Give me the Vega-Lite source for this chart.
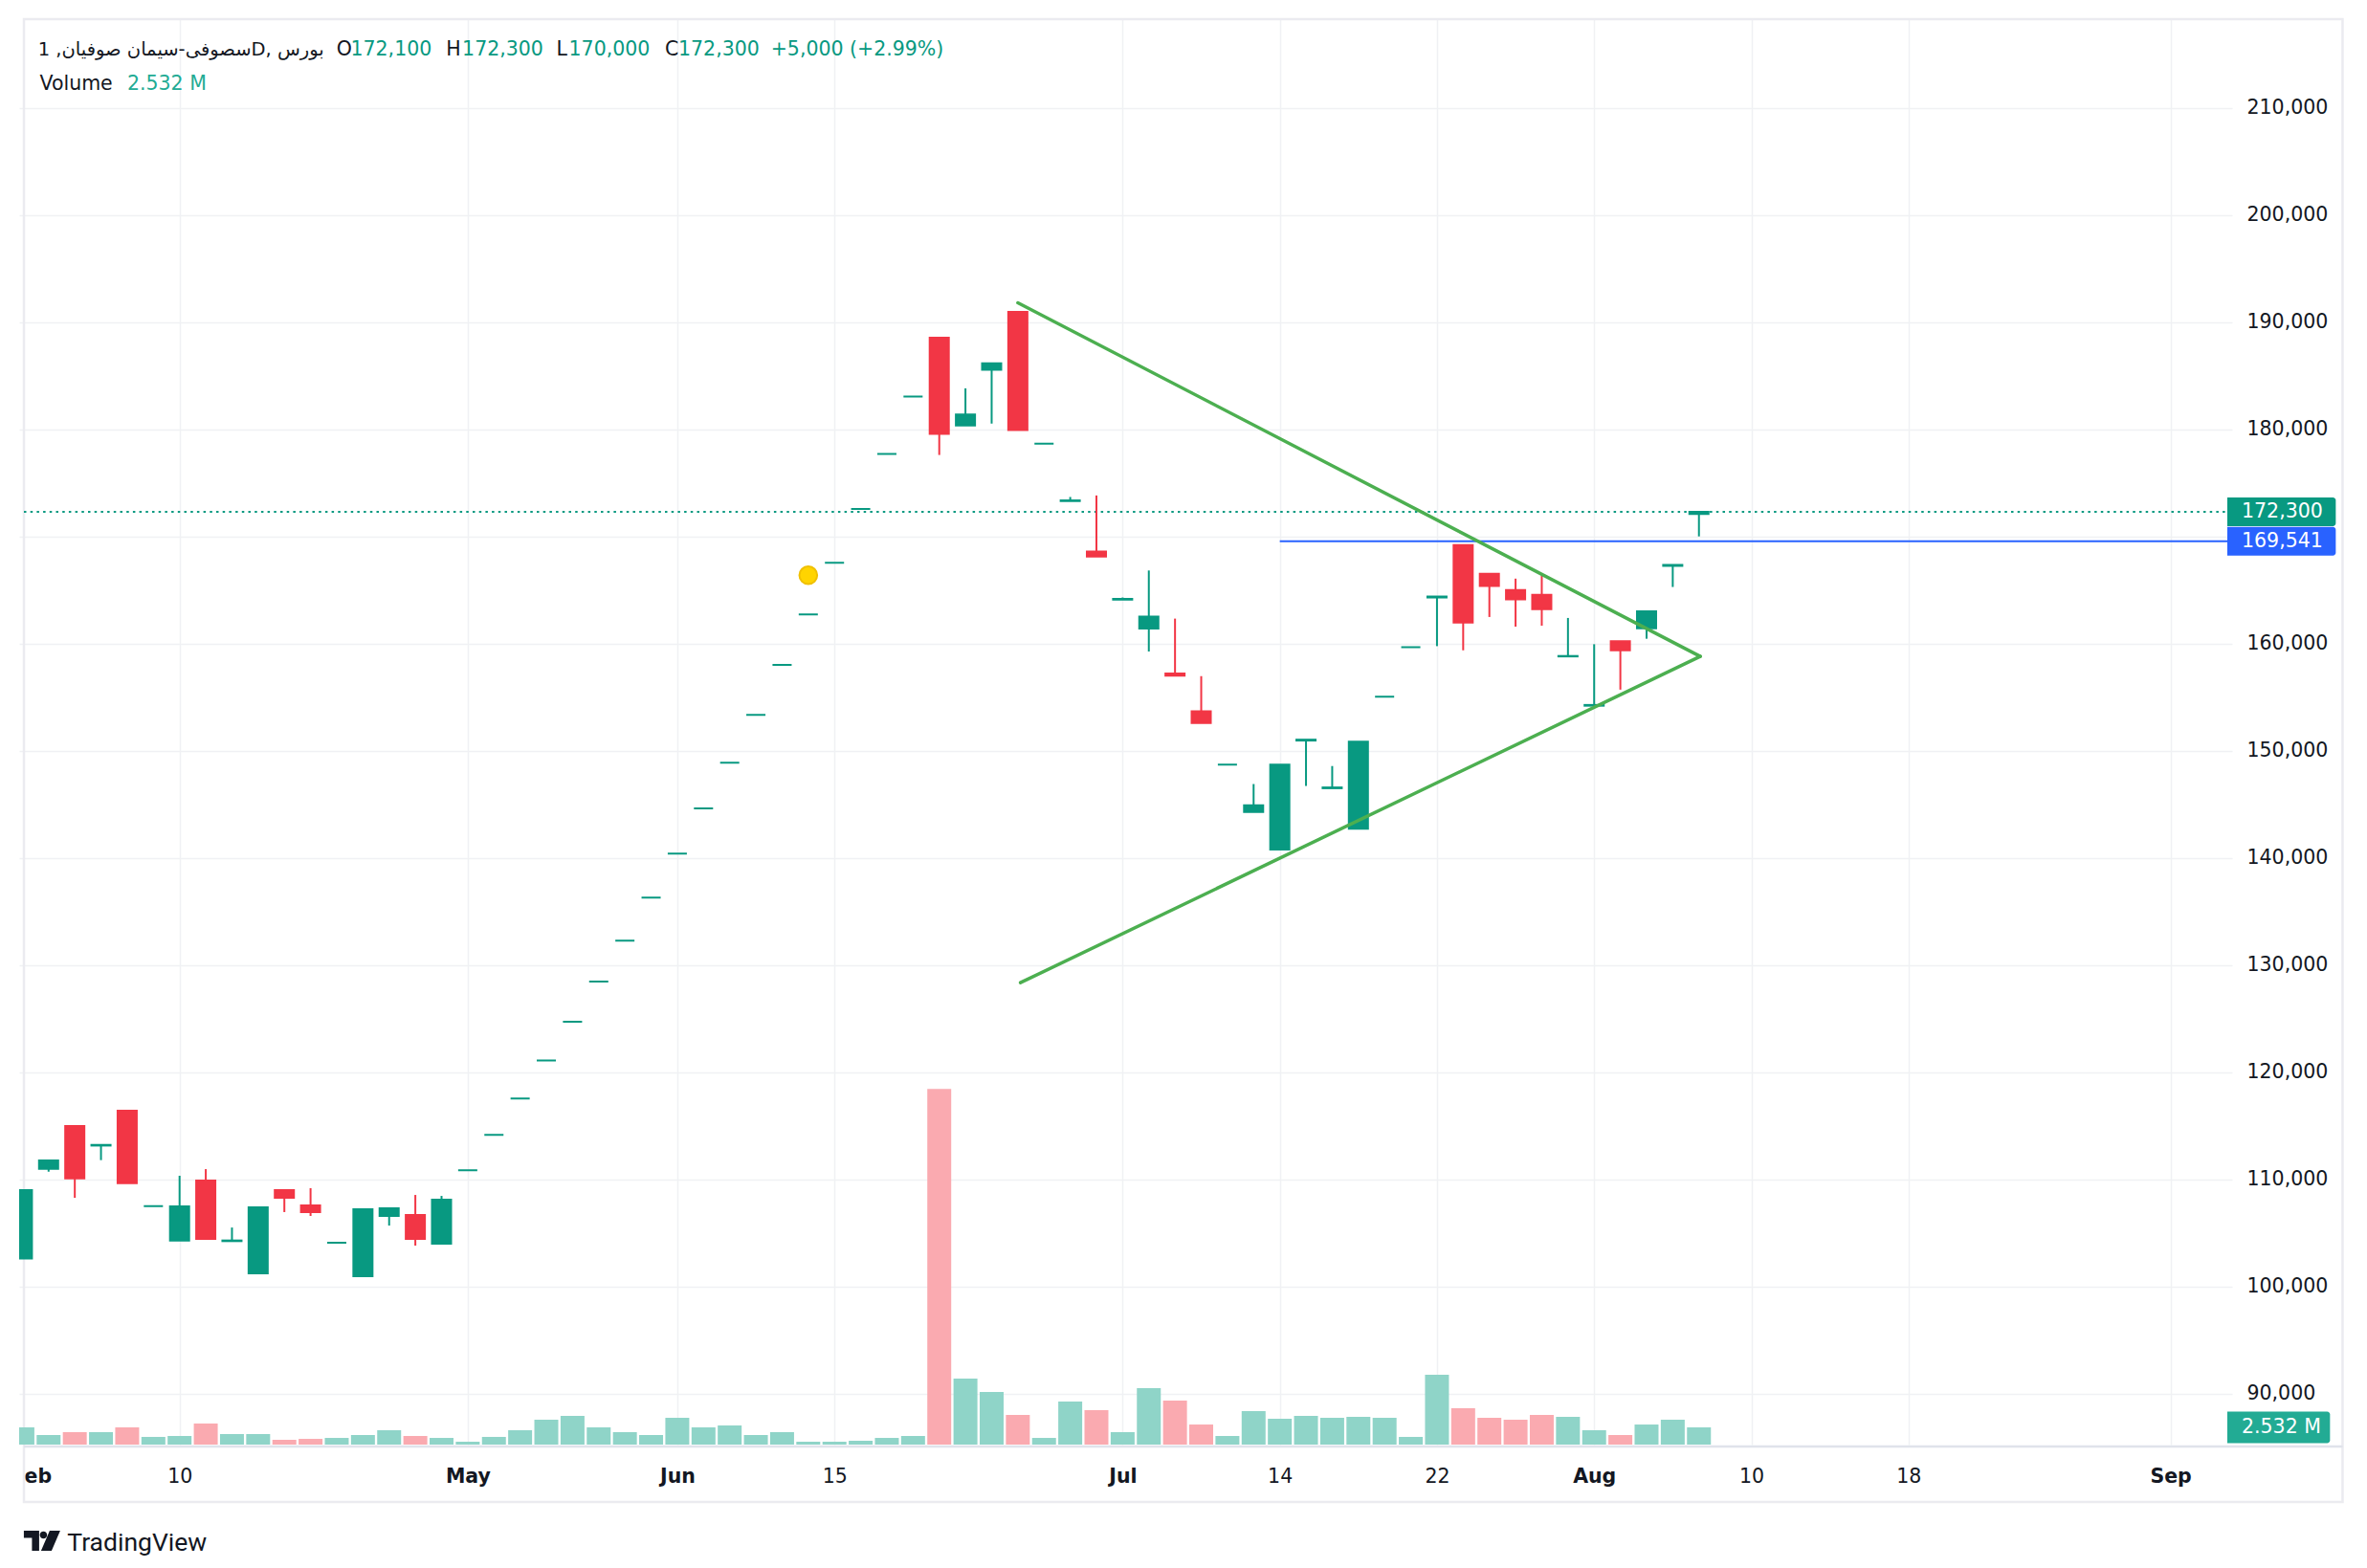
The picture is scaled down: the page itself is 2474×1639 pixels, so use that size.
{
  "$schema": "https://vega.github.io/schema/vega-lite/v6.json",
  "width": 2313,
  "height": 1490,
  "autosize": {"type": "none"},
  "padding": {"left": 20, "top": 20, "right": 141, "bottom": 129},
  "background": "#ffffff",
  "config": {"view": {"stroke": null}, "font": "DejaVu Sans"},
  "datasets": {
    "bars": [
      {"i":0,"o":102600,"h":109000,"l":102600,"c":109000,"v":2.53},
      {"i":1,"o":110980,"h":111760,"l":110710,"c":111760,"v":1.41},
      {"i":2,"o":114970,"h":114970,"l":108270,"c":110090,"v":1.83},
      {"i":3,"o":113150,"h":113210,"l":111790,"c":113210,"v":1.83},
      {"i":4,"o":116400,"h":116400,"l":109640,"c":109640,"v":2.53},
      {"i":5,"o":107500,"h":107500,"l":107500,"c":107500,"v":1.13},
      {"i":6,"o":104290,"h":110330,"l":104290,"c":107470,"v":1.27},
      {"i":7,"o":109880,"h":110950,"l":104440,"c":104440,"v":3.10},
      {"i":8,"o":104230,"h":105500,"l":104230,"c":104290,"v":1.55},
      {"i":9,"o":101220,"h":107470,"l":101220,"c":107380,"v":1.55},
      {"i":10,"o":108990,"h":108990,"l":106940,"c":108270,"v":0.70},
      {"i":11,"o":107560,"h":109170,"l":106580,"c":106940,"v":0.84},
      {"i":12,"o":104080,"h":104080,"l":104080,"c":104080,"v":0.98},
      {"i":13,"o":100950,"h":107200,"l":100950,"c":107200,"v":1.41},
      {"i":14,"o":106580,"h":107290,"l":105680,"c":107290,"v":2.11},
      {"i":15,"o":106670,"h":108540,"l":103810,"c":104440,"v":1.27},
      {"i":16,"o":103990,"h":108450,"l":103990,"c":108100,"v":0.98},
      {"i":17,"o":110840,"h":110840,"l":110840,"c":110840,"v":0.42},
      {"i":18,"o":114140,"h":114140,"l":114140,"c":114140,"v":1.13},
      {"i":19,"o":117530,"h":117530,"l":117530,"c":117530,"v":2.11},
      {"i":20,"o":121100,"h":121100,"l":121100,"c":121100,"v":3.66},
      {"i":21,"o":124700,"h":124700,"l":124700,"c":124700,"v":4.22},
      {"i":22,"o":128450,"h":128450,"l":128450,"c":128450,"v":2.53},
      {"i":23,"o":132270,"h":132270,"l":132270,"c":132270,"v":1.83},
      {"i":24,"o":136300,"h":136300,"l":136300,"c":136300,"v":1.41},
      {"i":25,"o":140400,"h":140400,"l":140400,"c":140400,"v":3.94},
      {"i":26,"o":144620,"h":144620,"l":144620,"c":144620,"v":2.53},
      {"i":27,"o":148880,"h":148880,"l":148880,"c":148880,"v":2.81},
      {"i":28,"o":153350,"h":153350,"l":153350,"c":153350,"v":1.41},
      {"i":29,"o":158010,"h":158010,"l":158010,"c":158010,"v":1.83},
      {"i":30,"o":162710,"h":162710,"l":162710,"c":162710,"v":0.42},
      {"i":31,"o":167530,"h":167530,"l":167530,"c":167530,"v":0.42},
      {"i":32,"o":172560,"h":172560,"l":172560,"c":172560,"v":0.56},
      {"i":33,"o":177700,"h":177700,"l":177700,"c":177700,"v":0.98},
      {"i":34,"o":183050,"h":183050,"l":183050,"c":183050,"v":1.27},
      {"i":35,"o":188550,"h":188550,"l":177600,"c":179580,"v":52.3},
      {"i":36,"o":180350,"h":183820,"l":180350,"c":181380,"v":9.71},
      {"i":37,"o":185550,"h":186150,"l":180530,"c":186150,"v":7.74},
      {"i":38,"o":190950,"h":190950,"l":179930,"c":179930,"v":4.36},
      {"i":39,"o":178660,"h":178660,"l":178660,"c":178660,"v":0.98},
      {"i":40,"o":173300,"h":173680,"l":173300,"c":173360,"v":6.33},
      {"i":41,"o":168590,"h":173820,"l":168130,"c":168130,"v":5.07},
      {"i":42,"o":164100,"h":164300,"l":164100,"c":164170,"v":1.83},
      {"i":43,"o":161410,"h":166820,"l":159260,"c":162510,"v":8.30},
      {"i":44,"o":157200,"h":162330,"l":157000,"c":157000,"v":6.47},
      {"i":45,"o":153680,"h":156960,"l":152580,"c":152580,"v":2.95},
      {"i":46,"o":148690,"h":148690,"l":148690,"c":148690,"v":1.27},
      {"i":47,"o":144280,"h":146890,"l":144280,"c":144910,"v":4.92},
      {"i":48,"o":140780,"h":148690,"l":140780,"c":148690,"v":3.80},
      {"i":49,"o":150950,"h":151030,"l":146710,"c":151030,"v":4.22},
      {"i":50,"o":146500,"h":148570,"l":146500,"c":146570,"v":3.94},
      {"i":51,"o":142720,"h":150840,"l":142720,"c":150840,"v":4.08},
      {"i":52,"o":155050,"h":155050,"l":155050,"c":155050,"v":3.94},
      {"i":53,"o":159670,"h":159670,"l":159670,"c":159670,"v":1.13},
      {"i":54,"o":164300,"h":164390,"l":159760,"c":164390,"v":10.27},
      {"i":55,"o":169190,"h":169190,"l":159370,"c":161970,"v":5.35},
      {"i":56,"o":166510,"h":166510,"l":162480,"c":165370,"v":3.94},
      {"i":57,"o":164990,"h":166060,"l":161580,"c":164120,"v":3.66},
      {"i":58,"o":164540,"h":166360,"l":161670,"c":163220,"v":4.36},
      {"i":59,"o":158800,"h":162390,"l":158800,"c":158840,"v":4.08},
      {"i":60,"o":154200,"h":159940,"l":154200,"c":154270,"v":2.11},
      {"i":61,"o":160210,"h":160210,"l":155700,"c":159370,"v":1.41},
      {"i":62,"o":161430,"h":163010,"l":160450,"c":163010,"v":2.95},
      {"i":63,"o":167250,"h":167340,"l":165280,"c":167340,"v":3.66},
      {"i":64,"o":172100,"h":172300,"l":170000,"c":172300,"v":2.532}
    ],
    "trend": [
      {"i":38.0,"p":191800,"seg":"upper"},
      {"i":64.05,"p":158800,"seg":"upper"},
      {"i":38.1,"p":128350,"seg":"lower"},
      {"i":64.05,"p":158800,"seg":"lower"}
    ],
    "hlines": [
      {"i":0.058,"i2":84.17,"p":172300,"k":"last"},
      {"i":48,"i2":84.17,"p":169541,"k":"level"}
    ],
    "tags": [
      {"i":84.17,"i2":88.31,"p":170961,"p2":173639,"pm":172300,"t":"172,300","k":"last"},
      {"i":84.17,"i2":88.31,"p":168202,"p2":170880,"pm":169541,"t":"169,541","k":"level"}
    ],
    "vtag": [
      {"i":84.17,"i2":88.09,"v":0.21,"v2":4.85,"vm":2.532,"t":"2.532 M"}
    ],
    "marker": [{"i":30,"p":166375}],
    "header": [
      {"i":0.596,"p":214884,"t":"سصوفی-سیمان صوفیان, 1D, بورس","k":"title"},
      {"i":11.99,"p":214884,"t":"O","k":"name"},
      {"i":12.53,"p":214884,"t":"172,100","k":"up"},
      {"i":16.17,"p":214884,"t":"H","k":"name"},
      {"i":16.79,"p":214884,"t":"172,300","k":"up"},
      {"i":20.38,"p":214884,"t":"L","k":"name"},
      {"i":20.86,"p":214884,"t":"170,000","k":"up"},
      {"i":24.53,"p":214884,"t":"C","k":"name"},
      {"i":25.04,"p":214884,"t":"172,300","k":"up"},
      {"i":28.57,"p":214884,"t":"+5,000 (+2.99%)","k":"up"},
      {"i":0.66,"p":211696,"t":"Volume","k":"name"},
      {"i":4.0,"p":211696,"t":"2.532 M","k":"vol"}
    ],
    "frame": [{"i":0.058,"i2":88.57,"p":218277,"p2":79884}],
    "sep": [{"i":0.058,"i2":88.57,"p":85062}],
    "logo": [{"i":1.713,"p":75357,"t":"TradingView"}],
    "logoIcon": [{"i":0.749,"p":76268}]
  },
  "encoding": {
    "x": {
      "field": "i",
      "type": "quantitative",
      "scale": {"domain": [0.058, 84.17], "nice": false, "zero": false},
      "axis": {
        "values": [0.058, 6, 17, 25, 31, 42, 48, 54, 60, 66, 72, 82],
        "labelExpr": "datum.value < 1 ? 'eb' : datum.value == 6 ? '10' : datum.value == 17 ? 'May' : datum.value == 25 ? 'Jun' : datum.value == 31 ? '15' : datum.value == 42 ? 'Jul' : datum.value == 48 ? '14' : datum.value == 54 ? '22' : datum.value == 60 ? 'Aug' : datum.value == 66 ? '10' : datum.value == 72 ? '18' : 'Sep'",
        "grid": true,
        "gridColor": {"condition": {"test": "datum.value < 1", "value": "transparent"}, "value": "#f0f1f4"},
        "gridWidth": 1.5,
        "ticks": false,
        "tickSize": 0,
        "domain": false,
        "labelPadding": 33,
        "labelBaseline": "middle",
        "labelAlign": {"condition": {"test": "datum.value < 1", "value": "left"}, "value": "center"},
        "labelFont": "DejaVu Sans",
        "labelFontSize": 20.5,
        "labelColor": "#131722",
        "labelFontWeight": {"condition": {"test": "datum.value < 1 || datum.value == 17 || datum.value == 25 || datum.value == 42 || datum.value == 60 || datum.value == 82", "value": "bold"}, "value": "normal"},
        "labelFlush": false,
        "labelOverlap": false,
        "title": null
      }
    }
  },
  "resolve": {"scale": {"y": "independent"}},
  "layer": [
    {
      "data": {"name": "frame"},
      "mark": {"type": "rect", "filled": false, "color": "#ebebf0", "strokeWidth": 2.5},
      "encoding": {
        "x2": {"field": "i2"},
        "y": {
          "field": "p", "type": "quantitative",
          "scale": {"domain": [85241, 218277], "nice": false, "zero": false},
          "axis": {
            "orient": "right",
            "values": [90000, 100000, 110000, 120000, 130000, 140000, 150000, 160000, 170000, 180000, 190000, 200000, 210000],
            "labelExpr": "datum.value == 170000 ? '' : format(datum.value, ',.0f')",
            "grid": true,
            "gridColor": "#f0f1f4",
            "gridWidth": 1.5,
            "ticks": false,
            "tickSize": 0,
            "domain": false,
            "labelAlign": "left",
            "labelBaseline": "middle",
            "labelPadding": 15,
            "labelFont": "DejaVu Sans",
            "labelFontSize": 20.5,
            "labelColor": "#131722",
            "labelFlush": false,
            "labelOverlap": false,
            "title": null
          }
        },
        "y2": {"field": "p2"}
      }
    },
    {
      "data": {"name": "bars"},
      "mark": {"type": "bar", "width": 25, "clip": true},
      "encoding": {
        "y": {"field": "v", "type": "quantitative", "scale": {"domain": [0, 209.6], "nice": false, "zero": true}, "axis": null},
        "color": {"condition": {"test": "datum.c >= datum.o", "value": "#8fd4c8"}, "value": "#faaab0"}
      }
    },
    {
      "data": {"name": "sep"},
      "mark": {"type": "rule", "color": "#e0e3eb", "strokeWidth": 2.5},
      "encoding": {
        "x2": {"field": "i2"},
        "y": {"field": "p", "type": "quantitative", "scale": {"domain": [85241, 218277], "nice": false, "zero": false}, "axis": null}
      }
    },
    {
      "data": {"name": "hlines"},
      "transform": [{"filter": "datum.k == 'last'"}],
      "mark": {"type": "rule", "color": "#089981", "strokeWidth": 2, "strokeDash": [2.5, 4.2]},
      "encoding": {
        "x2": {"field": "i2"},
        "y": {"field": "p", "type": "quantitative", "scale": {"domain": [85241, 218277], "nice": false, "zero": false}, "axis": null}
      }
    },
    {
      "data": {"name": "hlines"},
      "transform": [{"filter": "datum.k == 'level'"}],
      "mark": {"type": "rule", "color": "#2962ff", "strokeWidth": 2},
      "encoding": {
        "x2": {"field": "i2"},
        "y": {"field": "p", "type": "quantitative", "scale": {"domain": [85241, 218277], "nice": false, "zero": false}, "axis": null}
      }
    },
    {
      "data": {"name": "bars"},
      "mark": {"type": "rule", "strokeWidth": 2, "clip": true},
      "encoding": {
        "y": {"field": "l", "type": "quantitative", "scale": {"domain": [85241, 218277], "nice": false, "zero": false}, "axis": null},
        "y2": {"field": "h"},
        "color": {"condition": {"test": "datum.c >= datum.o", "value": "#089981"}, "value": "#f23645"}
      }
    },
    {
      "data": {"name": "bars"},
      "mark": {"type": "bar", "width": 20, "strokeWidth": 2, "clip": true},
      "encoding": {
        "y": {"field": "o", "type": "quantitative", "scale": {"domain": [85241, 218277], "nice": false, "zero": false}, "axis": null},
        "y2": {"field": "c"},
        "color": {"condition": {"test": "datum.c >= datum.o", "value": "#089981"}, "value": "#f23645"},
        "stroke": {"condition": {"test": "datum.c >= datum.o", "value": "#089981"}, "value": "#f23645"}
      }
    },
    {
      "data": {"name": "trend"},
      "mark": {"type": "line", "color": "#4caf50", "strokeWidth": 3.5, "strokeCap": "round"},
      "encoding": {
        "y": {"field": "p", "type": "quantitative", "scale": {"domain": [85241, 218277], "nice": false, "zero": false}, "axis": null},
        "detail": {"field": "seg"}
      }
    },
    {
      "data": {"name": "marker"},
      "mark": {"type": "point", "filled": true, "size": 346, "fill": "#ffd400", "stroke": "#f0c000", "strokeWidth": 2, "opacity": 1},
      "encoding": {
        "y": {"field": "p", "type": "quantitative", "scale": {"domain": [85241, 218277], "nice": false, "zero": false}, "axis": null}
      }
    },
    {
      "data": {"name": "tags"},
      "mark": {"type": "rect", "cornerRadiusTopRight": 3, "cornerRadiusBottomRight": 3},
      "encoding": {
        "x2": {"field": "i2"},
        "y": {"field": "p", "type": "quantitative", "scale": {"domain": [85241, 218277], "nice": false, "zero": false}, "axis": null},
        "y2": {"field": "p2"},
        "color": {"condition": {"test": "datum.k == 'last'", "value": "#089981"}, "value": "#2962ff"}
      }
    },
    {
      "data": {"name": "tags"},
      "mark": {"type": "text", "align": "left", "baseline": "middle", "font": "DejaVu Sans", "fontSize": 20.5, "color": "#ffffff", "dx": 15},
      "encoding": {
        "y": {"field": "pm", "type": "quantitative", "scale": {"domain": [85241, 218277], "nice": false, "zero": false}, "axis": null},
        "text": {"field": "t"}
      }
    },
    {
      "data": {"name": "vtag"},
      "mark": {"type": "rect", "color": "#22ab94", "cornerRadiusTopRight": 3, "cornerRadiusBottomRight": 3},
      "encoding": {
        "x2": {"field": "i2"},
        "y": {"field": "v", "type": "quantitative", "scale": {"domain": [0, 209.6], "nice": false, "zero": true}, "axis": null},
        "y2": {"field": "v2"}
      }
    },
    {
      "data": {"name": "vtag"},
      "mark": {"type": "text", "align": "left", "baseline": "middle", "font": "DejaVu Sans", "fontSize": 20.5, "color": "#ffffff", "dx": 15},
      "encoding": {
        "y": {"field": "vm", "type": "quantitative", "scale": {"domain": [0, 209.6], "nice": false, "zero": true}, "axis": null},
        "text": {"field": "t"}
      }
    },
    {
      "data": {"name": "header"},
      "mark": {"type": "text", "align": "left", "baseline": "alphabetic", "font": "DejaVu Sans"},
      "encoding": {
        "y": {"field": "p", "type": "quantitative", "scale": {"domain": [85241, 218277], "nice": false, "zero": false}, "axis": null},
        "text": {"field": "t"},
        "size": {"condition": {"test": "datum.k == 'title'", "value": 19.5}, "value": 20.5},
        "color": {"condition": [{"test": "datum.k == 'up'", "value": "#089981"}, {"test": "datum.k == 'vol'", "value": "#22ab94"}], "value": "#131722"}
      }
    },
    {
      "data": {"name": "logo"},
      "mark": {"type": "text", "align": "left", "baseline": "alphabetic", "font": "Roboto", "fontSize": 26.5, "color": "#131722"},
      "encoding": {
        "y": {"field": "p", "type": "quantitative", "scale": {"domain": [85241, 218277], "nice": false, "zero": false}, "axis": null},
        "text": {"field": "t"}
      }
    },
    {
      "data": {"name": "logoIcon"},
      "mark": {
        "type": "point", "filled": true, "size": 1444, "color": "#131722", "opacity": 1,
        "shape": "M-1,-0.553 L-0.158,-0.553 L-0.158,0.553 L-0.553,0.553 L-0.553,-0.158 L-1,-0.158 Z M-0.121,-0.316 A0.2,0.2 0 1 0 0.279,-0.316 A0.2,0.2 0 1 0 -0.121,-0.316 Z M0.421,-0.553 L1,-0.553 L0.526,0.553 L-0.053,0.553 Z"
      },
      "encoding": {
        "y": {"field": "p", "type": "quantitative", "scale": {"domain": [85241, 218277], "nice": false, "zero": false}, "axis": null}
      }
    }
  ]
}
